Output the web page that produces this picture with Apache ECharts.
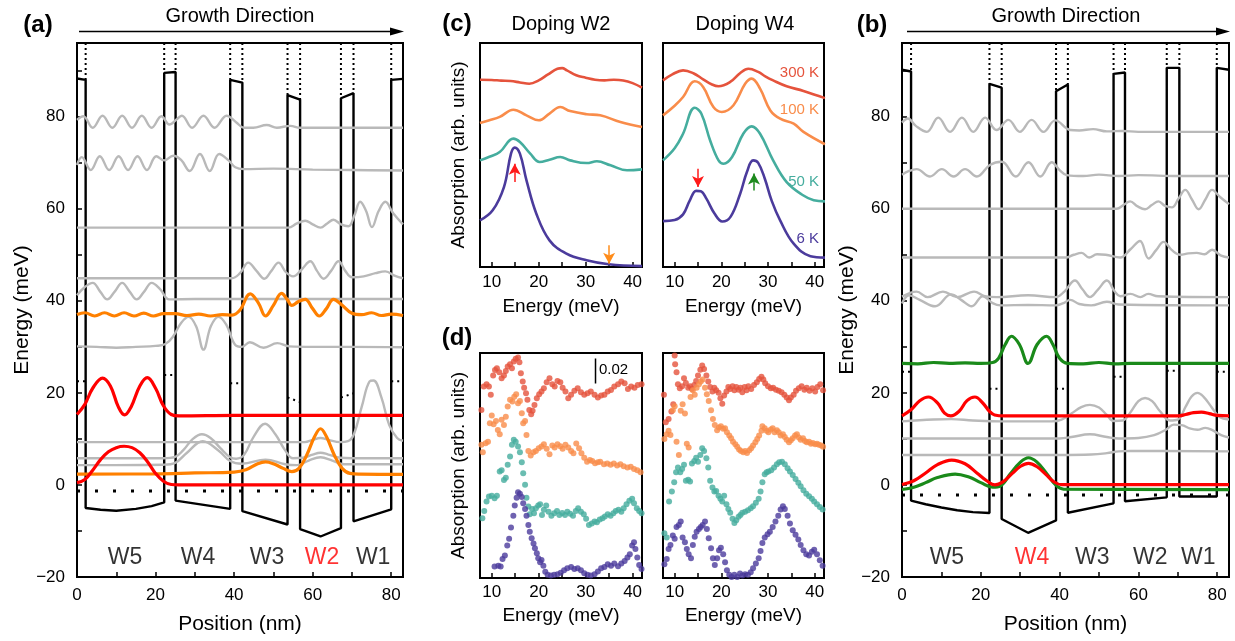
<!DOCTYPE html>
<html>
<head>
<meta charset="utf-8">
<title>Band profile and absorption</title>
<script src="https://cdn.jsdelivr.net/npm/echarts@6/dist/echarts.min.js"></script>
<style>
  html, body { margin: 0; padding: 0; background: #fff; }
  #chart { width: 1235px; height: 641px; }
</style>
</head>
<body>
<div id="chart"></div>
<script type="text/javascript">
// ---- axis ticks ----
var posTicks = [10, 20, 30, 40, 50, 60, 70, 80];
var posLabels = [0, 20, 40, 60, 80];
var eTicks = [-10, 0, 10, 20, 30, 40, 50, 60, 70, 80, 90];
var eLabels = [-20, 0, 20, 40, 60, 80];
var absTicks = [10, 15, 20, 25, 30, 35, 40];
var absLabels = [10, 20, 30, 40];
var posMax = 83, eMin = -20, eMax = 96;

// ---- panel (a): W2 doped ----
var bandA = [[0,88.3],[2.2,88.0],[2.2,-5.0],[6,-5.4],[10,-5.6],[15,-5.2],[19,-4.6],[22.2,-3.8],[22.2,89.5],[25.1,89.7],[25.1,-3.4],[39.0,-5.2],[39.0,88.0],[42.1,87.4],[42.1,-5.7],[53.6,-8.6],[53.6,84.7],[56.8,83.7],[56.8,-9.6],[62,-11.2],[67.2,-9.4],[67.2,84.0],[70.4,85.1],[70.4,-7.9],[80,-5.3],[80,88.0],[83,88.2]];
var edgesA = [[2.2,88.0],[22.2,89.5],[25.1,89.7],[39.0,88.0],[42.1,87.4],[53.6,84.7],[56.8,83.7],[67.2,84.0],[70.4,85.1],[80,88.0]];
var fermiA = -1.3;
var bitsA = [[0,22.5,2.2,22.5],[22.2,23.9,25.1,23.9],[39.0,22.1,42.1,22.1],[53.6,19.0,56.8,18.0],[67.2,19.0,70.4,19.9],[80,22.5,83,22.5]];
var redA0 = [[0,0.5],[2,1.2],[4,3.2],[6,5.5],[8,7.2],[10,8.1],[12,8.4],[14,8.1],[16,7.0],[18,5.0],[20,2.5],[22,0.8],[24,0.1],[26,0],[83,0]];
var redA1 = [[0,15.3],[2,17.5],[4,21],[6.5,23.2],[8.5,21.5],[10.5,17.0],[12.1,15.2],[13.8,17.0],[16,21.5],[17.9,23.3],[20,21],[22,17.2],[24,15.3],[26,15.0],[40,15.1],[83,15.1]];
var orangeA0 = [[0,2.35],[20,2.4],[30,2.6],[40,2.8],[43,3.3],[46,4.6],[48,5.0],[50,4.6],[52.5,3.6],[54.7,2.9],[56.5,3.6],[58.5,6.5],[60.5,10.5],[62,12.2],[63.5,10.5],[65.5,6.5],[67.5,3.6],[69.5,2.5],[72,2.35],[83,2.3]];
var orangeA1 = [[0,37.0],[2,37.4],[4.5,36.7],[7,37.4],[9.5,36.7],[12,37.4],[14.5,36.7],[17,37.3],[19.5,36.7],[22,37.2],[25,37.2],[28,36.8],[31,37.1],[34,36.7],[37,37.0],[39.5,36.9],[41.5,38],[44.1,41.5],[46.2,39.5],[48,36.7],[50,39],[52.1,41.6],[53.5,40.3],[54.7,39.0],[56.3,39.8],[58.1,40.3],[60,38.3],[61.7,36.7],[63.5,38.3],[65.3,40.3],[67.3,39.2],[70,37.3],[72.5,37.0],[75,37.4],[77.5,36.8],[80,37.1],[83,36.8]];
var grayA = [
  [[0,9.3],[58,9.3],[60,9.8],[62,10.2],[64,9.8],[67,9.3],[69,9.5],[70.5,11],[72.5,17],[74.5,22.5],[75.5,22.7],[77.5,19],[79.5,13],[81.5,10.2],[83,9.6]],
  [[0,5.8],[22,5.8],[25,6.1],[27,7.5],[29.5,10],[31.8,11.0],[34,10.2],[36.5,8],[39,6.0],[40.5,5.7],[42.5,6.5],[45,10.5],[47.9,13.3],[50.5,11],[53,7.5],[55,5.8],[57.5,5.9],[60,6.6],[62,7.0],[64,6.6],[67,5.9],[70,5.8],[83,5.8]],
  [[0,4.3],[22,4.4],[25,4.8],[28,7],[32,9.5],[36,7.5],[39,5.2],[42,4.6],[48,5.5],[53,4.5],[56,4.3],[59,5.3],[62,6.0],[65,5.3],[68,4.5],[83,4.5]],
  [[0,30.1],[5,30],[10,29.8],[15,30],[20,30.2],[22.5,30.6],[24.5,32.3],[26.5,35.2],[28.4,36.5],[30.3,34.5],[32.2,29.4],[34.1,34.5],[36,36.5],[38,34.8],[40.3,30.4],[42,30],[44,31],[47.5,29.8],[51,30.8],[54,30.1],[60,30.0],[70,30.0],[83,29.9]],
  [[0,41.2],[2,43.0],[4,43.9],[5.9,42],[7.7,40.3],[9.6,42],[11.5,43.9],[13.4,42],[15.2,40.3],[17.1,42],[19,43.9],[21.2,42.5],[23.5,40.3],[30,40.4],[83,40.4]],
  [[0,44.9],[39.4,44.9],[41.5,46],[43.6,48.3],[45.7,46.5],[47.7,44.8],[49.5,46.5],[51.3,48.3],[53.2,46.2],[55,45.3],[57.2,46.8],[59.4,48.6],[61.1,46.5],[62.8,44.8],[64.7,46.5],[66.6,48.6],[68.3,46.5],[70,45.1],[73,45.3],[76,46],[78.5,46.4],[81,45.4],[83,44.9]],
  [[0,55.9],[53.8,55.9],[56,56.8],[58.1,57.4],[60,56.6],[62,55.9],[63.7,56.8],[65.3,57.6],[67.2,56.6],[69.1,56.2],[70.6,58.5],[72.1,61.5],[73.6,59.5],[75.1,56],[76.8,59.5],[78.5,61.5],[80.5,59],[83,56.6]],
  [[0,69.5],[1.2,71.2],[3.5,68.4],[5.8,71.4],[8.2,68.4],[10.6,71.4],[13,68.4],[15.4,71.4],[17.8,68.4],[20.2,71.4],[22.2,70.5],[24.5,71.5],[26.5,70.6],[28.7,68.2],[31.3,71.9],[33.8,68.2],[36.2,71.9],[38.6,70.5],[40.3,69],[42.5,68.6],[50,68.7],[60,68.5],[70,68.4],[83,68.3]],
  [[0,79.3],[1.6,80.1],[4,77.6],[6.5,80.2],[9,77.6],[11.5,80.2],[14,77.6],[16.5,80.2],[19,77.6],[21.5,80.1],[23.5,78.3],[25.5,79.5],[26.7,80.2],[29.3,77.6],[32.2,80.2],[35,77.6],[38.1,80.2],[40.5,78.8],[42.5,77.6],[44.9,77.6],[48.3,78.2],[50.9,77.6],[54.3,78.0],[56.8,77.6],[83,77.6]]
];

// ---- panel (b): W4 doped ----
var bandB = [[0,90.2],[2.3,89.8],[2.3,-3.4],[6,-4.2],[10,-4.9],[14,-5.5],[18,-5.9],[22.2,-6.1],[22.2,87.1],[25.3,86.3],[25.3,-7.4],[32,-10.4],[39.1,-7.7],[39.1,85.5],[42.1,87.0],[42.1,-6.05],[53.7,-4.0],[53.7,89.3],[56.6,89.6],[56.6,-3.55],[67.2,-2.7],[67.2,90.6],[70.4,90.6],[70.4,-2.5],[79.9,-2.5],[79.9,90.6],[83,90.2]];
var edgesB = [[2.3,89.8],[22.2,87.1],[25.3,86.3],[39.1,85.5],[42.1,87.0],[53.7,89.3],[56.6,89.6],[67.2,90.6],[70.4,90.6],[79.9,90.6]];
var fermiB = -2.2;
var bitsB = [[0,24.6,2.3,24.6],[22.2,20.9,25.3,20.9],[39.1,20.9,42.1,20.9],[53.7,23.5,56.6,23.5],[67.2,24.8,70.4,24.8],[79.9,24.6,83,24.6]];
var redB0 = [[0,0.1],[3,0.9],[6,2.6],[9,4.4],[12.6,5.4],[16,4.6],[19,2.6],[21.5,0.9],[23.6,0],[25.5,0.6],[28,2.5],[30,4],[32.1,4.7],[34.2,4],[36.5,2.3],[38.5,0.7],[40.5,0.05],[83,0.05]];
var greenB0 = [[0,-1.0],[3,-0.5],[6,0.5],[9,1.6],[13.5,2.35],[17,1.7],[20,0.5],[23,-0.5],[25,-0.2],[27.5,2.4],[30,4.9],[32.1,5.9],[34.2,5.0],[36.7,2.5],[39,0],[41,-0.9],[83,-1.0]];
var redB1 = [[0,15],[2.5,16.5],[4.5,18.3],[6.7,19.1],[9,17.8],[10.8,15.6],[12.4,15.0],[14.5,16.0],[16.5,18.3],[18.5,19.1],[20.5,17.8],[22.2,16],[23.5,15.2],[26,15],[70,15],[72,15.3],[74,15.7],[76,15.8],[78,15.5],[80,15.1],[83,15.0]];
var greenB1 = [[0,26.4],[4,26.3],[8,26.6],[12,26.4],[16,26.5],[20,26.4],[23,26.6],[24.5,27.5],[26.2,30.5],[27.8,32.3],[29.8,30.5],[32,26.4],[34.3,30.5],[36.7,32.3],[38.3,30.5],[40,27.5],[42,26.4],[46,26.3],[50,26.6],[54,26.3],[58,26.4],[83,26.4]];
var grayB = [
  [[0,13.8],[8,14.2],[12.5,14.3],[18,14.0],[25,13.8],[38,13.8],[40.5,14.2],[43,15.5],[45.5,16.9],[47.7,17.4],[50,16.8],[52,15.2],[53.7,13.9],[56,14],[58,15.8],[60,18.2],[61.7,18.9],[63.5,18.2],[65.5,16],[68,14],[70,14.2],[72,17],[73.5,19.2],[75,20],[76.5,19.2],[78.5,17],[80.5,14.8],[83,14.2]],
  [[0,10.1],[40,10.1],[43,10.4],[47.7,11.0],[52,10.4],[55,10.1],[60,10.2],[64,10.8],[67,12],[69,13.1],[71,13.0],[73,12.3],[75,12.0],[77,12.4],[79,11.8],[81,10.8],[83,10.3]],
  [[0,6.5],[40,6.5],[48,6.6],[52,6.9],[55,7.3],[58,7.4],[83,7.3]],
  [[0,39.4],[1.8,41.2],[4.5,40.2],[8.4,38.8],[12.5,41.4],[15,40.2],[17.7,38.8],[20.5,41],[23,39.5],[25,39],[32,39.1],[39,39.0],[41,39.5],[42.7,40.2],[45,39.3],[48,39],[52,39.8],[55,39.2],[83,39.0]],
  [[0,40.9],[3.7,42.0],[6.5,40.8],[10.4,42.0],[14,40.8],[18.3,42],[21,41],[24,40.8],[32,41.2],[39,40.8],[41.2,42],[43.9,44.4],[45.8,42.5],[47.7,40.8],[49.8,42.5],[52,44.4],[54,42],[55.4,41.0],[58,41.5],[60.5,40.8],[62.5,41.5],[65,41],[83,40.8]],
  [[0,49.4],[41.5,49.4],[43.6,50.0],[45.6,50.4],[47.5,49.4],[49.5,50.1],[51.7,50.0],[55.4,49.4],[58,51.2],[60.4,53.0],[62.6,49.2],[64.5,51],[66.4,52.8],[68.5,51],[70.6,50.0],[72.7,50.3],[74.8,50.4],[76.8,50.1],[78.7,51.1],[81,49.8],[83,49.4]],
  [[0,60.0],[54.5,60.0],[56.2,60.8],[57.9,61.6],[59.8,60.5],[61.7,59.9],[63.4,60.8],[65.1,61.6],[66.8,60.6],[68.5,60.3],[70.2,62.2],[71.9,64.1],[73.6,62],[75.3,59.9],[77,62],[78.7,64.1],[80.8,62.5],[83,61]],
  [[0,67.4],[1.8,68.2],[3.7,68.6],[7.1,67.0],[10.1,68.6],[13.1,67.0],[16,68.6],[19,67.0],[22.3,69.5],[25.3,70.2],[28.9,67.0],[32.1,70.1],[35.1,67.0],[38,70.1],[40,68.4],[41.8,67.3],[46,67.1],[50,67.4],[55,67.1],[60,67.3],[70,67.1],[83,67.1]],
  [[0,78.7],[1.5,79.6],[3.5,78.0],[6.3,76.7],[9.2,79.8],[12.2,76.7],[15.2,79.8],[18.1,76.7],[21.1,79.8],[24,77.1],[27,79.3],[29.9,76.7],[32.9,79.3],[35.9,76.7],[38.9,79.2],[42.7,77.1],[45,77.0],[48.5,77.3],[52,76.8],[56,76.9],[60,76.7],[83,76.7]]
];

// ---- well labels ----
var wellNames = ['W5', 'W4', 'W3', 'W2', 'W1'];
var wellPosA = [12.2, 30.8, 48.4, 62.4, 75.4];
var wellPosB = [11.4, 33.0, 48.3, 63.0, 75.2];
var wellLabelE = -15.7;

// ---- panel (c): calculated absorption ----
var cW2_300 = [[7.5,83.6],[10,83.5],[12,83.2],[14,83.0],[16,82.4],[18,81.8],[20,83.3],[22,86.0],[24,88.5],[25,88.8],[26,87.8],[28,85.6],[30,84.5],[32,83.6],[34,83.3],[36,83.6],[38,83.3],[40,82.1],[42,80.1]];
var cW2_100 = [[7.5,64.3],[9.5,65.5],[11.7,67.0],[14.6,70.2],[17.4,67.7],[20,65.5],[22.3,68.5],[24.6,71.4],[26.7,69.6],[30.2,68.2],[33.1,67.7],[37.4,64.7],[42,62.5]];
var cW2_50 = [[7.5,47.6],[9.5,49.2],[11.7,51.3],[14.6,57.3],[16,55.8],[18.2,50.6],[20.2,46.9],[22.3,47.9],[24.6,49.1],[26.7,47.6],[30.2,46.4],[32.4,47.2],[35.3,45.4],[38.8,43.2],[42,43.6]];
var cW2_6 = [[7.5,20.8],[10.2,25.3],[12.6,35.7],[14.1,50.6],[14.9,53.3],[16,50.6],[17.4,38.7],[19.5,23.8],[22.3,11.9],[25.9,6.0],[30.2,3.0],[34.9,1.2],[42,0.4]];
var cW4_300 = [[7.5,83.3],[9.5,86.0],[11.8,87.8],[14,86.5],[16.1,83.8],[18,81.5],[19.4,80.7],[21.9,82.6],[24,86.5],[25.8,88.5],[27.9,87.1],[29.5,85],[31.1,83.3],[34,80.7],[37.6,78.6],[42.2,75.4]];
var cW4_100 = [[7.5,67.7],[10,72],[11.8,75.9],[14.3,82.9],[16.1,80.4],[18.3,71.4],[20.1,69.2],[22.6,72.2],[25.1,81.8],[26.5,84.1],[28.3,79.6],[30.5,69.9],[32.6,66.2],[35.5,64.0],[37.6,60.3],[42.2,54.8]];
var cW4_50 = [[7.5,47.6],[10,53],[11.8,59.5],[14.3,71.1],[15.7,68.5],[17.6,56.5],[19.4,47.6],[20.5,46.1],[22.3,49.1],[24.7,59.5],[26.5,62.8],[28.3,59.5],[31.1,47.6],[34,37.9],[37.6,31.9],[39.8,29.8],[42.2,29.3]];
var cW4_6 = [[7.5,20.5],[10,21],[11.8,23.5],[13.2,29.5],[14.6,34.0],[15.6,33.8],[16.8,30.5],[18.5,24],[20.2,20.3],[22,22.5],[24,32.5],[25.5,42.5],[26.8,47.6],[27.9,46.5],[29.3,39.5],[30.8,29.5],[32.6,20.8],[35.5,10.4],[39.1,4.8],[42.2,4.2]];
// arrows: [E, from, to, colour]
var arrowsW2 = [[14.9, 37.9, 46.1, '#ff1a1a'], [35.0, 9.7, 1.5, '#ff8c1a']];
var arrowsW4 = [[15.0, 43.9, 35.7, '#ff1a1a'], [27.0, 34.2, 41.7, '#1e8a1e']];
var tempNames = ['300 K', '100 K', '50 K', '6 K'];

// ---- panel (d): measured absorption ----
var dW2_300 = [[7.8,74.7],[8.3,85.1],[8.9,86.1],[9.4,85.1],[9.8,81.4],[10.3,90.0],[10.7,92.5],[11.1,93.2],[11.6,91.5],[12.1,88.8],[12.6,90.0],[13.0,92.0],[13.4,94.0],[13.9,95.0],[14.3,93.2],[14.7,96.2],[15.1,97.4],[15.6,98.0],[15.9,95.9],[16.2,91.0],[16.6,87.3],[16.9,84.6],[17.3,82.1],[17.6,79.2],[18.0,74.7],[18.4,72.8],[18.7,74.3],[19.1,76.9],[19.6,79.9],[20.1,81.7],[20.6,82.9],[21.1,84.3],[21.7,87.0],[22.3,88.8],[22.9,86.1],[23.4,85.1],[24.0,87.6],[24.6,87.0],[25.1,84.6],[25.7,82.9],[26.3,79.9],[26.9,81.4],[27.6,83.2],[28.3,84.3],[29.0,82.6],[29.7,81.4],[30.4,82.1],[31.1,82.9],[31.9,81.4],[32.6,80.2],[33.3,81.1],[34.0,81.4],[34.7,82.9],[35.4,83.6],[36.1,85.1],[36.9,86.1],[37.6,87.3],[38.3,86.6],[39.0,84.0],[39.7,85.1],[40.4,84.6],[41.1,85.8],[41.9,86.1]];
var dW2_100 = [[7.8,59.2],[8.1,55.9],[8.7,59.9],[9.2,60.6],[9.6,68.8],[10.0,72.2],[10.4,68.3],[10.9,69.8],[11.3,65.8],[11.7,63.9],[12.1,70.3],[12.6,68.0],[13.0,71.7],[13.4,76.2],[13.9,79.2],[14.4,78.4],[14.8,80.6],[15.2,81.7],[15.6,77.7],[16.0,78.7],[16.4,73.2],[16.7,68.8],[17.1,69.8],[17.4,63.6],[17.8,56.5],[18.3,54.4],[18.9,55.9],[19.4,56.5],[20.0,57.7],[20.6,58.4],[21.1,59.5],[21.7,57.4],[22.3,55.0],[22.9,58.9],[23.4,58.0],[24.0,59.5],[24.6,58.6],[25.1,57.4],[25.7,59.2],[26.3,58.0],[26.9,56.5],[27.4,55.5],[28.0,59.8],[28.6,57.7],[29.1,55.5],[29.7,53.5],[30.3,51.7],[30.9,52.5],[31.4,52.0],[32.0,51.0],[32.6,51.5],[33.1,51.7],[33.9,50.6],[34.6,50.9],[35.3,50.3],[36.0,50.9],[36.7,50.0],[37.4,50.6],[38.1,49.7],[38.9,49.1],[39.6,49.4],[40.3,48.5],[41.0,47.9],[41.7,47.0]];
var dW2_50 = [[8.0,26.6],[8.4,29.8],[8.9,34.0],[9.4,36.2],[10.0,36.6],[10.6,35.5],[11.1,36.6],[11.7,47.3],[12.1,47.9],[12.6,43.6],[13.0,44.6],[13.4,50.3],[13.9,54.0],[14.3,59.2],[14.7,61.4],[15.1,60.6],[15.6,58.4],[16.0,55.9],[16.4,51.5],[16.7,46.6],[17.1,41.4],[17.4,35.7],[17.8,31.8],[18.1,28.3],[18.6,30.7],[19.0,28.8],[19.4,31.0],[19.9,32.2],[20.3,32.8],[20.7,28.0],[21.1,30.3],[21.6,32.2],[22.1,29.5],[22.7,27.7],[23.3,28.8],[23.9,29.8],[24.4,28.0],[25.0,28.9],[25.6,28.0],[26.1,29.5],[26.7,28.6],[27.3,27.7],[27.9,29.8],[28.4,31.0],[29.0,29.5],[29.6,28.3],[30.1,26.3],[30.7,23.6],[31.3,24.2],[31.9,25.1],[32.4,24.8],[33.0,26.0],[33.6,26.6],[34.1,27.3],[34.7,28.3],[35.3,27.7],[35.9,28.8],[36.4,29.8],[37.0,30.3],[37.6,29.5],[38.1,31.0],[38.7,32.8],[39.3,34.3],[39.9,35.2],[40.3,33.2],[40.9,31.0],[41.4,29.8],[41.9,28.8]];
var dW2_6 = [[10.6,5.1],[11.4,5.5],[11.9,5.1],[12.3,8.5],[12.8,10.0],[13.3,14.4],[13.7,17.4],[14.1,22.4],[14.6,27.7],[14.9,32.2],[15.3,35.7],[15.6,38.1],[16.0,37.5],[16.4,36.0],[16.7,33.2],[17.1,30.7],[17.4,27.7],[17.8,23.6],[18.1,20.6],[18.5,17.7],[18.9,15.3],[19.2,13.2],[19.6,11.0],[19.9,8.8],[20.3,7.0],[20.6,8.0],[21.0,5.5],[21.4,2.8],[21.9,1.4],[22.6,1.1],[23.3,1.4],[24.0,1.7],[24.7,2.3],[25.4,3.5],[26.1,4.3],[26.9,4.9],[27.6,4.0],[28.3,4.3],[29.0,3.5],[29.7,2.1],[30.4,1.4],[31.1,1.1],[31.9,1.7],[32.6,2.9],[33.3,4.3],[34.0,4.9],[34.7,6.1],[35.4,5.5],[36.1,6.4],[36.9,5.2],[37.6,6.4],[38.3,7.6],[38.9,9.1],[39.4,10.6],[39.9,14.4],[40.3,15.9],[40.6,12.9],[41.0,9.1],[41.4,5.8],[41.9,4.0]];
var dW4_300 = [[7.7,81.4],[8.1,69.2],[8.7,70.7],[9.3,74.0],[9.7,77.2],[10.0,98.9],[10.1,95.0],[10.4,91.4],[10.7,86.1],[11.1,84.3],[11.6,85.2],[12.0,88.8],[12.4,86.7],[12.9,84.6],[13.3,85.2],[13.7,84.0],[14.2,85.8],[14.6,87.6],[15.0,90.0],[15.5,92.6],[15.9,94.4],[16.3,92.9],[16.8,90.0],[17.2,87.3],[17.6,84.9],[18.1,82.9],[18.5,84.6],[18.9,83.5],[19.4,82.3],[19.8,79.9],[20.2,77.5],[20.6,81.1],[21.1,82.9],[21.5,84.9],[21.9,84.0],[22.4,85.2],[22.8,83.5],[23.2,84.9],[23.7,83.7],[24.1,84.6],[24.5,82.6],[25.0,84.9],[25.4,83.5],[25.8,85.2],[26.4,84.0],[27.0,85.8],[27.6,87.0],[28.1,88.5],[28.6,89.4],[29.0,88.2],[29.4,86.6],[30.0,85.2],[30.6,84.3],[31.1,84.6],[31.7,83.7],[32.3,83.2],[32.9,82.6],[33.5,81.4],[34.0,80.2],[34.5,79.0],[34.9,80.2],[35.5,81.4],[36.0,83.2],[36.6,84.3],[37.2,85.2],[37.8,83.7],[38.3,84.6],[38.9,83.2],[39.5,84.3],[40.1,82.9],[40.6,84.9],[41.2,86.1],[41.8,83.5]];
var dW4_100 = [[7.8,61.8],[8.3,63.9],[8.7,65.4],[9.1,63.6],[9.6,74.6],[10.0,76.3],[10.4,60.6],[10.9,54.7],[11.3,74.3],[11.7,77.2],[12.2,73.1],[12.6,59.7],[13.0,58.0],[13.4,80.5],[13.9,83.5],[14.3,81.4],[14.7,84.6],[15.2,86.1],[15.6,87.3],[16.0,88.2],[16.5,84.6],[16.9,81.7],[17.3,78.7],[17.8,74.6],[18.2,70.7],[18.6,68.0],[19.1,65.7],[19.5,66.9],[19.9,67.5],[20.4,66.3],[20.8,66.6],[21.2,64.8],[21.7,63.3],[22.1,62.1],[22.5,60.6],[23.0,59.5],[23.4,58.3],[23.8,57.1],[24.2,56.5],[24.7,55.9],[25.1,56.5],[25.5,55.6],[26.0,56.8],[26.4,57.7],[26.8,58.9],[27.3,60.3],[27.7,61.8],[28.1,63.3],[28.6,65.4],[28.8,67.5],[29.3,66.6],[29.7,65.4],[30.1,64.8],[30.6,66.0],[31.0,66.6],[31.4,64.8],[31.9,65.7],[32.3,64.8],[32.7,63.3],[33.2,63.9],[33.6,62.7],[34.0,61.5],[34.5,60.3],[34.9,61.2],[35.3,62.1],[35.8,63.3],[36.2,63.9],[36.6,62.4],[37.0,61.5],[37.5,62.1],[37.9,60.9],[38.3,60.3],[38.8,60.6],[39.2,59.7],[39.6,60.0],[40.1,59.5],[40.5,59.7],[40.9,59.2],[41.4,58.9],[41.8,58.3]];
var dW4_50 = [[7.8,19.9],[8.3,18.0],[8.8,34.0],[9.4,38.4],[9.9,42.6],[10.3,47.0],[10.7,49.1],[11.2,47.0],[11.6,48.5],[12.0,50.3],[12.4,43.2],[12.9,43.7],[13.3,42.9],[13.7,50.9],[14.2,52.0],[14.6,53.5],[15.0,51.7],[15.5,54.7],[15.9,57.7],[16.3,56.5],[16.8,53.2],[17.2,49.1],[17.6,43.2],[18.1,40.2],[18.5,38.4],[18.9,38.7],[19.4,36.6],[19.8,35.2],[20.2,34.0],[20.6,36.6],[21.1,32.8],[21.5,30.7],[21.9,29.0],[22.4,26.3],[22.8,24.5],[23.2,25.7],[23.7,27.2],[24.1,28.0],[24.5,29.0],[25.1,29.5],[25.7,30.1],[26.3,31.0],[26.8,31.9],[27.4,33.4],[28.0,35.2],[28.4,38.4],[28.8,42.6],[29.3,46.1],[29.7,47.0],[30.1,47.3],[30.7,47.9],[31.3,49.1],[31.9,50.6],[32.4,51.5],[33.0,51.7],[33.6,50.6],[34.2,48.8],[34.7,47.3],[35.3,45.8],[35.9,44.0],[36.5,42.3],[37.0,40.8],[37.6,39.0],[38.2,37.5],[38.8,36.3],[39.4,35.2],[39.9,34.0],[40.5,32.8],[41.1,31.6],[41.7,30.4],[42.1,29.5]];
var dW4_6 = [[7.8,6.1],[8.3,8.5],[8.7,12.9],[9.1,14.7],[9.6,18.9],[10.0,17.4],[10.4,22.7],[10.9,23.6],[11.3,25.1],[11.7,18.0],[12.2,15.9],[12.6,12.9],[13.0,10.6],[13.5,8.8],[13.9,14.7],[14.3,18.3],[14.7,20.6],[15.2,21.8],[15.6,22.7],[16.0,23.6],[16.5,25.1],[16.9,21.8],[17.3,17.7],[17.8,13.2],[18.2,8.8],[18.6,5.8],[19.1,8.8],[19.5,12.3],[19.9,13.5],[20.4,10.6],[20.8,7.0],[21.2,3.5],[21.7,1.4],[22.2,0.5],[22.8,1.4],[23.4,0.5],[24.0,2.0],[24.5,1.1],[25.1,1.7],[25.7,1.4],[26.3,2.6],[26.8,4.3],[27.4,6.4],[28.0,8.8],[28.4,12.0],[28.8,15.6],[29.3,18.0],[29.9,19.4],[30.4,20.6],[31.0,22.7],[31.6,25.1],[32.2,27.7],[32.7,30.4],[33.2,31.9],[33.6,30.7],[34.2,27.7],[34.7,24.2],[35.3,21.2],[35.9,19.2],[36.5,17.1],[37.0,14.7],[37.6,12.3],[38.2,10.6],[38.8,10.0],[39.4,11.7],[39.9,12.6],[40.5,10.6],[41.1,7.9],[41.7,5.5],[42.1,3.7]];
var scaleBar = [[32.1, 97.6], [32.1, 86.5]];

// ---- styling ----
var FONT = 'Liberation Sans, Arial, sans-serif';
var RED = '#ff0000', ORANGE = '#ff8000', GRAY = '#b9b9b9', GREEN = '#1a8a1a';
var T300 = '#e5533c', T100 = '#f98c4a', T50 = '#45ad9e', T6 = '#4b3b9c';

var chart = echarts.init(document.getElementById('chart'), null, {renderer: 'canvas'});

function minus(v) { return String(v).replace('-', '\u2212'); }

function curve(g, data, color, width, extra) {
    return Object.assign({
        type: 'line', xAxisIndex: g, yAxisIndex: g, data: data,
        symbol: 'none', showSymbol: false, smooth: 0.4, silent: true,
        lineStyle: {color: color, width: width}, z: 3
    }, extra || {});
}
function dots(g, data, color) {
    return {type: 'scatter', xAxisIndex: g, yAxisIndex: g, data: data, symbolSize: 6,
            itemStyle: {color: color}, silent: true, clip: true};
}
function segs(list) { // [x1,y1,x2,y2] -> broken polyline
    var out = [];
    list.forEach(function (s) { out.push([s[0], s[1]], [s[2], s[3]], null); });
    return out;
}
function verticals(edges) {
    var out = [];
    edges.forEach(function (e) { out.push([e[0], eMax], [e[0], e[1]], null); });
    return out;
}
function wellLabels(g, pos, doped) {
    return {
        type: 'scatter', xAxisIndex: g, yAxisIndex: g, symbolSize: 0, silent: true,
        data: wellNames.map(function (n, i) {
            return {value: [pos[i], wellLabelE], name: n,
                    label: {color: n === doped ? '#ff0000' : '#000'}};
        }),
        label: {show: true, position: 'inside', formatter: '{b}', fontSize: 23, fontFamily: FONT,
                textBorderWidth: 0}
    };
}
function arrows(g, list) {
    return {
        type: 'line', xAxisIndex: g, yAxisIndex: g, data: [], silent: true,
        markLine: {
            silent: true, symbol: ['none', 'arrow'], symbolSize: [9, 11], label: {show: false},
            data: list.map(function (a) {
                return [{coord: [a[0], a[1]], lineStyle: {color: a[3], width: 1.5, type: 'solid'}},
                        {coord: [a[0], a[2]]}];
            })
        }
    };
}

function posX(g) {
    return {gridIndex: g, type: 'value', min: 0, max: posMax,
        axisLine: {show: false, onZero: false}, splitLine: {show: false},
        axisTick: {inside: true, length: 5, customValues: posTicks, lineStyle: {color: '#000', width: 1.5}},
        axisLabel: {customValues: posLabels, color: '#000', fontSize: 17, margin: 10, fontFamily: FONT},
        name: 'Position (nm)', nameLocation: 'middle', nameGap: 37,
        nameTextStyle: {fontSize: 21, color: '#000', fontFamily: FONT}};
}
function energyY(g) {
    return {gridIndex: g, type: 'value', min: eMin, max: eMax,
        axisLine: {show: false, onZero: false}, splitLine: {show: false},
        axisTick: {inside: true, length: 5, customValues: eTicks, lineStyle: {color: '#000', width: 1.5}},
        axisLabel: {customValues: eLabels, color: '#000', fontSize: 17, margin: 12, fontFamily: FONT, formatter: minus},
        name: 'Energy (meV)', nameLocation: 'middle', nameGap: 44,
        nameTextStyle: {fontSize: 21, color: '#000', fontFamily: FONT}};
}
function absX(g, gap, margin) {
    return {gridIndex: g, type: 'value', min: 7.5, max: 42,
        axisLine: {show: false, onZero: false}, splitLine: {show: false},
        axisTick: {inside: true, length: 5, customValues: absTicks, lineStyle: {color: '#000', width: 1.5}},
        axisLabel: {customValues: absLabels, color: '#000', fontSize: 17, margin: margin, fontFamily: FONT},
        name: 'Energy (meV)', nameLocation: 'middle', nameGap: gap,
        nameTextStyle: {fontSize: 19, color: '#000', fontFamily: FONT}};
}
function absY(g, named) {
    return {gridIndex: g, type: 'value', min: 0, max: 100,
        axisLine: {show: false, onZero: false}, axisTick: {show: false}, axisLabel: {show: false}, splitLine: {show: false},
        name: named ? 'Absorption (arb. units)' : '', nameLocation: 'middle', nameGap: 12,
        nameTextStyle: {fontSize: 19, color: '#000', fontFamily: FONT}};
}
function box(l, t, w, h) {
    return {left: l, top: t, width: w, height: h, show: true, borderColor: '#000', borderWidth: 2};
}

var series = [];
// (a) and (b): band diagrams
[[0, bandA, edgesA, fermiA, bitsA], [1, bandB, edgesB, fermiB, bitsB]].forEach(function (p) {
    var g = p[0];
    series.push(curve(g, p[1], '#000', 2.4, {smooth: false, z: 2}));
    series.push(curve(g, verticals(p[2]), '#000', 2, {smooth: false, z: 2, connectNulls: false,
        lineStyle: {color: '#000', width: 2, type: [2, 3]}}));
    series.push(curve(g, [[0, p[3]], [posMax, p[3]]], '#000', 3, {smooth: false, z: 2,
        lineStyle: {color: '#000', width: 3, type: [3, 15]}}));
    series.push(curve(g, segs(p[4]), '#000', 2, {smooth: false, z: 2, connectNulls: false,
        lineStyle: {color: '#000', width: 2, type: [2, 4]}}));
});
grayA.forEach(function (d) { series.push(curve(0, d, GRAY, 2.4)); });
grayB.forEach(function (d) { series.push(curve(1, d, GRAY, 2.4)); });
series.push(curve(0, orangeA0, ORANGE, 3.2, {z: 4}));
series.push(curve(0, orangeA1, ORANGE, 3.2, {z: 4}));
series.push(curve(0, redA0, RED, 3.2, {z: 4}));
series.push(curve(0, redA1, RED, 3.2, {z: 4}));
series.push(curve(1, greenB0, GREEN, 3.2, {z: 4}));
series.push(curve(1, redB0, RED, 3.2, {z: 4}));
series.push(curve(1, greenB1, GREEN, 3.2, {z: 4}));
series.push(curve(1, redB1, RED, 3.2, {z: 4}));
series.push(wellLabels(0, wellPosA, 'W2'));
series.push(wellLabels(1, wellPosB, 'W4'));

// (c) calculated spectra
[[2, [cW2_300, cW2_100, cW2_50, cW2_6]], [3, [cW4_300, cW4_100, cW4_50, cW4_6]]].forEach(function (p) {
    var cols = [T300, T100, T50, T6];
    p[1].forEach(function (d, i) { series.push(curve(p[0], d, cols[i], 2.6)); });
});
series.push(arrows(2, arrowsW2));
series.push(arrows(3, arrowsW4));

// (d) measured spectra
[[4, [dW2_300, dW2_100, dW2_50, dW2_6]], [5, [dW4_300, dW4_100, dW4_50, dW4_6]]].forEach(function (p) {
    var cols = [T300, T100, T50, T6];
    p[1].forEach(function (d, i) { series.push(dots(p[0], d, cols[i])); });
});
series.push(curve(4, scaleBar, '#000', 1.5, {smooth: false}));

var tempY = [73, 110, 182, 239];
var tempCols = [T300, T100, T50, T6];
var graphic = [
    {type: 'text', x: 240, y: 16, style: {text: 'Growth Direction', fontSize: 20, fontFamily: FONT, fill: '#000', align: 'center', verticalAlign: 'middle'}},
    {type: 'line', shape: {x1: 79, y1: 31.5, x2: 398, y2: 31.5}, style: {stroke: '#000', lineWidth: 1.6}},
    {type: 'polygon', shape: {points: [[404, 31.5], [390, 27.5], [390, 35.5]]}, style: {fill: '#000'}},
    {type: 'text', x: 1066, y: 16, style: {text: 'Growth Direction', fontSize: 20, fontFamily: FONT, fill: '#000', align: 'center', verticalAlign: 'middle'}},
    {type: 'line', shape: {x1: 907, y1: 31.5, x2: 1224, y2: 31.5}, style: {stroke: '#000', lineWidth: 1.6}},
    {type: 'polygon', shape: {points: [[1230, 31.5], [1216, 27.5], [1216, 35.5]]}, style: {fill: '#000'}},
    {type: 'text', x: 38, y: 25, style: {text: '(a)', fontSize: 24, fontWeight: 'bold', fontFamily: FONT, fill: '#000', align: 'center', verticalAlign: 'middle'}},
    {type: 'text', x: 457, y: 24, style: {text: '(c)', fontSize: 24, fontWeight: 'bold', fontFamily: FONT, fill: '#000', align: 'center', verticalAlign: 'middle'}},
    {type: 'text', x: 457, y: 338, style: {text: '(d)', fontSize: 24, fontWeight: 'bold', fontFamily: FONT, fill: '#000', align: 'center', verticalAlign: 'middle'}},
    {type: 'text', x: 872, y: 25, style: {text: '(b)', fontSize: 24, fontWeight: 'bold', fontFamily: FONT, fill: '#000', align: 'center', verticalAlign: 'middle'}},
    {type: 'text', x: 561, y: 24, style: {text: 'Doping W2', fontSize: 20, fontFamily: FONT, fill: '#000', align: 'center', verticalAlign: 'middle'}},
    {type: 'text', x: 745, y: 24, style: {text: 'Doping W4', fontSize: 20, fontFamily: FONT, fill: '#000', align: 'center', verticalAlign: 'middle'}},
    {type: 'text', x: 599, y: 370, style: {text: '0.02', fontSize: 15, fontFamily: FONT, fill: '#000', align: 'left', verticalAlign: 'middle'}}
];
tempNames.forEach(function (n, i) {
    graphic.push({type: 'text', x: 819, y: tempY[i], style: {text: n, fontSize: 15, fontFamily: FONT, fill: tempCols[i], align: 'right', verticalAlign: 'middle'}});
});

chart.setOption({
    animation: false,
    backgroundColor: '#fff',
    textStyle: {fontFamily: FONT},
    grid: [box(77, 43, 326, 534), box(902, 43, 327, 534),
           box(480, 43, 162, 224), box(663, 43, 161, 224),
           box(480, 353, 162, 225), box(663, 353, 161, 225)],
    xAxis: [posX(0), posX(1), absX(2, 30, 7), absX(3, 30, 7), absX(4, 28, 6), absX(5, 28, 6)],
    yAxis: [energyY(0), energyY(1), absY(2, true), absY(3, false), absY(4, true), absY(5, false)],
    series: series,
    graphic: graphic
});
</script>
</body>
</html>
